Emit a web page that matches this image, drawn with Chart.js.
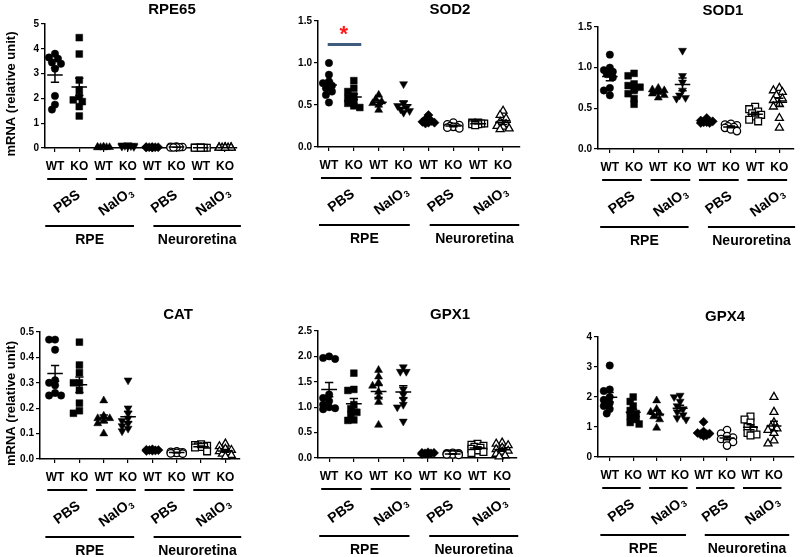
<!DOCTYPE html>
<html>
<head>
<meta charset="utf-8">
<script src="https://cdn.jsdelivr.net/npm/chart.js@4.4.0/dist/chart.umd.min.js"></script>
<style>
  html, body { margin: 0; padding: 0; background: #fff; }
  #wrap { position: relative; width: 800px; height: 557px; }
  #wrap canvas { position: absolute; left: 0; top: 0; }
</style>
</head>
<body>
<div id="wrap">
  <canvas id="c1" width="800" height="557"></canvas>
  <canvas id="c2" width="800" height="557"></canvas>
  <canvas id="c3" width="800" height="557"></canvas>
  <canvas id="c4" width="800" height="557"></canvas>
  <canvas id="c5" width="800" height="557"></canvas>
  <canvas id="c6" width="800" height="557"></canvas>
</div>
<script>
// categories
var groupLabels = ["WT", "KO", "WT", "KO", "WT", "KO", "WT", "KO"];
var treatLabels = ["PBS", "NaIO3", "PBS", "NaIO3"];
var tissueLabels = ["RPE", "Neuroretina"];

// values per group: RPE PBS WT/KO, RPE NaIO3 WT/KO, Neuro PBS WT/KO, Neuro NaIO3 WT/KO
var rpe65Values = [
  [3.8, 3.65, 3.6, 3.45, 3.4, 3.2, 2.1, 1.75, 1.55],
  [4.45, 3.79, 2.74, 2.34, 2.07, 1.94, 1.87, 1.67, 1.29],
  [0.02, 0.03, 0.03, 0.04, 0.02, 0.05, 0.03],
  [0.05, 0.08, 0.1, 0.12, 0.07, 0.09, 0.06, 0.11],
  [0.02, 0.03, 0.04, 0.03, 0.02, 0.03, 0.04],
  [0.02, 0.03, 0.05, 0.04, 0.03, 0.02, 0.04, 0.06],
  [0.01, 0.01, 0.02, 0.01, 0.01, 0.02, 0.01, 0.01],
  [0.01, 0.02, 0.01, 0.01, 0.02, 0.01, 0.01, 0.02, 0.01]
];
var sod2Values = [
  [1.0, 0.86, 0.78, 0.76, 0.73, 0.70, 0.66, 0.62, 0.53],
  [0.79, 0.70, 0.66, 0.61, 0.58, 0.55, 0.52, 0.49, 0.47],
  [0.62, 0.57, 0.54, 0.52, 0.50, 0.44],
  [0.75, 0.52, 0.49, 0.47, 0.45, 0.43, 0.41],
  [0.38, 0.33, 0.31, 0.30, 0.29, 0.29, 0.28],
  [0.29, 0.27, 0.26, 0.25, 0.24, 0.24, 0.23, 0.22],
  [0.29, 0.29, 0.28, 0.28, 0.28, 0.27, 0.27, 0.26],
  [0.43, 0.38, 0.34, 0.30, 0.27, 0.25, 0.24, 0.22, 0.21]
];
var sod1Values = [
  [1.16, 1.0, 0.97, 0.95, 0.92, 0.88, 0.75, 0.72, 0.66],
  [0.93, 0.90, 0.80, 0.78, 0.76, 0.72, 0.68, 0.62, 0.55],
  [0.75, 0.73, 0.72, 0.70, 0.68, 0.66, 0.63],
  [1.21, 0.90, 0.82, 0.72, 0.66, 0.63, 0.62],
  [0.38, 0.35, 0.34, 0.33, 0.33, 0.32, 0.32],
  [0.31, 0.30, 0.29, 0.28, 0.27, 0.26, 0.24, 0.22],
  [0.52, 0.49, 0.46, 0.44, 0.42, 0.40, 0.36, 0.34],
  [0.75, 0.72, 0.70, 0.66, 0.62, 0.60, 0.55, 0.52, 0.38, 0.26]
];
var catValues = [
  [0.47, 0.47, 0.43, 0.31, 0.30, 0.29, 0.26, 0.25, 0.25],
  [0.46, 0.37, 0.34, 0.30, 0.30, 0.27, 0.22, 0.19, 0.18],
  [0.23, 0.17, 0.16, 0.16, 0.15, 0.14, 0.10],
  [0.31, 0.20, 0.18, 0.16, 0.15, 0.14, 0.13, 0.12, 0.11],
  [0.038, 0.036, 0.035, 0.035, 0.034, 0.033, 0.032],
  [0.03, 0.028, 0.026, 0.025, 0.025, 0.024, 0.022, 0.021],
  [0.058, 0.055, 0.052, 0.05, 0.049, 0.047, 0.045, 0.03],
  [0.06, 0.05, 0.04, 0.035, 0.03, 0.025, 0.02, 0.015, 0.01]
];
var gpx1Values = [
  [2.0, 1.97, 1.95, 1.25, 1.18, 1.12, 1.05, 1.0, 0.98, 0.96],
  [1.67, 1.35, 1.33, 1.05, 0.97, 0.90, 0.85, 0.75, 0.74],
  [1.73, 1.60, 1.48, 1.42, 1.30, 1.20, 1.10, 0.65],
  [1.79, 1.70, 1.70, 1.35, 1.25, 1.15, 1.05, 1.0, 0.72],
  [0.11, 0.10, 0.10, 0.09, 0.09, 0.08, 0.08],
  [0.10, 0.09, 0.09, 0.08, 0.08, 0.07, 0.07, 0.06],
  [0.28, 0.26, 0.24, 0.22, 0.20, 0.18, 0.15, 0.12, 0.10],
  [0.30, 0.28, 0.25, 0.20, 0.17, 0.14, 0.12, 0.08, 0.05, 0.03]
];
var gpx4Values = [
  [3.05, 2.25, 2.2, 2.0, 1.9, 1.8, 1.7, 1.6, 1.45],
  [2.0, 1.85, 1.7, 1.55, 1.45, 1.35, 1.25, 1.15, 1.1],
  [1.88, 1.6, 1.5, 1.45, 1.35, 1.25, 0.97],
  [2.05, 2.0, 1.85, 1.7, 1.6, 1.5, 1.4, 1.3, 1.25],
  [1.17, 0.85, 0.8, 0.78, 0.75, 0.72, 0.7],
  [0.9, 0.78, 0.7, 0.65, 0.6, 0.55, 0.5, 0.38],
  [1.35, 1.25, 1.15, 1.0, 0.9, 0.8, 0.75, 0.72],
  [2.0, 1.5, 1.15, 1.0, 0.95, 0.9, 0.8, 0.55, 0.45]
];

// marker look for each group
var markerStyles = ["circle", "rect", "triangle", "triangle", "rectRot", "circle", "rect", "triangle"];
var markerRotation = [0, 0, 0, 180, 0, 0, 0, 0];
var markerFilled = [true, true, true, true, true, false, false, false];
var markerRadius = { circle: 3.7, rect: 4.8, triangle: 4.6, rectRot: 4.6 };

var FONT = "'Liberation Sans', Arial, sans-serif";

var panels = [
  { id: "c1", title: "RPE65", values: rpe65Values, max: 5, step: 1, dec: 0, box: [45, 24, 237, 148], xr: [-0.41, 7.49], tx: 172, ty: 10, yTitle: true },
  { id: "c2", title: "SOD2", values: sod2Values, max: 1.5, step: 0.5, dec: 1, box: [318, 21, 520, 147], xr: [-0.44, 7.68], tx: 450, ty: 10,
    sig: { from: -0.05, to: 1.3, y: 1.22, star: 0.6, starY: 1.4 } },
  { id: "c3", title: "SOD1", values: sod1Values, max: 1.5, step: 0.5, dec: 1, box: [598, 27, 795, 149], xr: [-0.49, 7.6], tx: 723, ty: 11 },
  { id: "c4", title: "CAT", values: catValues, max: 0.5, step: 0.1, dec: 1, box: [40, 332, 240, 459], xr: [-0.62, 7.6], tx: 178, ty: 315, yTitle: true },
  { id: "c5", title: "GPX1", values: gpx1Values, max: 2.5, step: 0.5, dec: 1, box: [318, 331, 517, 458], xr: [-0.45, 7.6], tx: 450, ty: 315 },
  { id: "c6", title: "GPX4", values: gpx4Values, max: 4, step: 1, dec: 0, box: [598, 337, 795, 457], xr: [-0.5, 7.85], tx: 725, ty: 317 }
];

// simple beeswarm so dots with close values spread sideways
function swarm(vals, center, pxPerUnit, pxPerCat) {
  var order = vals.map(function (v, i) { return i; }).sort(function (a, b) { return vals[b] - vals[a]; });
  var steps = [0, -1, 1, -2, 2];
  var gap = 3;
  var placed = [];
  order.forEach(function (i) {
    var yp = vals[i] * pxPerUnit;
    var best = 0, bestD = -1;
    for (var k = 0; k < steps.length; k++) {
      var xp = steps[k] * gap;
      var dmin = Infinity;
      placed.forEach(function (p) {
        var d = Math.hypot(p.xp - xp, p.yp - yp);
        if (d < dmin) dmin = d;
      });
      if (dmin >= 5) { best = steps[k]; break; }
      if (dmin > bestD) { bestD = dmin; best = steps[k]; }
    }
    placed.push({ xp: best * gap, yp: yp, i: i });
  });
  return placed.map(function (p) { return { x: center + p.xp / pxPerCat, y: vals[p.i] }; });
}

function stats(v) {
  var n = v.length;
  var m = v.reduce(function (a, b) { return a + b; }, 0) / n;
  var sd = Math.sqrt(v.reduce(function (a, b) { return a + (b - m) * (b - m); }, 0) / (n - 1));
  return { mean: m, sem: sd / Math.sqrt(n) };
}

function drawTreat(ctx, text, cx, cy) {
  ctx.save();
  ctx.translate(cx, cy);
  ctx.rotate(-36 * Math.PI / 180);
  ctx.textBaseline = "middle";
  ctx.textAlign = "left";
  var main = text, sub = "";
  if (text === "NaIO3") { main = "NaIO"; sub = "3"; }
  ctx.font = "bold 14px " + FONT;
  var w1 = ctx.measureText(main).width;
  ctx.font = "bold 9px " + FONT;
  var w2 = sub ? ctx.measureText(sub).width : 0;
  var x0 = -(w1 + w2) / 2;
  ctx.font = "bold 14px " + FONT;
  ctx.fillText(main, x0, 0);
  if (sub) {
    ctx.font = "bold 9px " + FONT;
    ctx.fillText(sub, x0 + w1 + 0.5, 4);
  }
  ctx.restore();
}

var decor = {
  id: "panelDecor",
  afterDatasetsDraw: function (chart, args, o) {
    var ctx = chart.ctx, xs = chart.scales.x, ys = chart.scales.y;
    ctx.save();
    ctx.strokeStyle = "#000";
    ctx.lineWidth = 1.5;
    o.values.forEach(function (v, i) {
      var s = stats(v);
      var xc = xs.getPixelForValue(i);
      var hw = xs.getPixelForValue(i + 0.32) - xc;
      var cw = xs.getPixelForValue(i + 0.17) - xc;
      var ym = ys.getPixelForValue(s.mean);
      var yt = ys.getPixelForValue(s.mean + s.sem);
      var yb = ys.getPixelForValue(Math.max(0, s.mean - s.sem));
      ctx.beginPath();
      ctx.moveTo(xc - hw, ym); ctx.lineTo(xc + hw, ym);
      ctx.moveTo(xc - cw, yt); ctx.lineTo(xc + cw, yt);
      ctx.moveTo(xc - cw, yb); ctx.lineTo(xc + cw, yb);
      ctx.moveTo(xc, yt); ctx.lineTo(xc, yb);
      ctx.stroke();
    });
    ctx.restore();
  },
  afterDraw: function (chart, args, o) {
    var ctx = chart.ctx, xs = chart.scales.x, ys = chart.scales.y, ca = chart.chartArea;
    ctx.save();
    ctx.fillStyle = "#000";
    ctx.strokeStyle = "#000";

    // title
    ctx.font = "bold 15px " + FONT;
    ctx.textAlign = "center";
    ctx.textBaseline = "middle";
    ctx.fillText(o.title, o.tx, o.ty);

    // y axis title
    if (o.yTitle) {
      ctx.save();
      ctx.translate(11, (ca.top + ca.bottom) / 2 + 8);
      ctx.rotate(-Math.PI / 2);
      ctx.font = "bold 13px " + FONT;
      ctx.fillText("mRNA (relative unit)", 0, 0);
      ctx.restore();
    }

    // treatment underlines and labels
    ctx.lineWidth = 2;
    for (var k = 0; k < 4; k++) {
      var y1 = ca.bottom + 31;
      ctx.beginPath();
      ctx.moveTo(xs.getPixelForValue(2 * k - 0.32), y1);
      ctx.lineTo(xs.getPixelForValue(2 * k + 1.32), y1);
      ctx.stroke();
      drawTreat(ctx, treatLabels[k], xs.getPixelForValue(2 * k + 0.5), ca.bottom + 54);
    }

    // tissue underlines and labels
    var spans = [[-0.4, 3.25], [4.05, 7.65]];
    spans.forEach(function (sp, j) {
      var a = xs.getPixelForValue(sp[0]), b = xs.getPixelForValue(sp[1]);
      ctx.beginPath();
      ctx.moveTo(a, ca.bottom + 78);
      ctx.lineTo(b, ca.bottom + 78);
      ctx.stroke();
      ctx.font = "bold 14px " + FONT;
      ctx.textAlign = "center";
      ctx.textBaseline = "middle";
      ctx.fillText(tissueLabels[j], (a + b) / 2, ca.bottom + 92);
    });

    // significance bar
    if (o.sig) {
      ctx.strokeStyle = "#3f5b7d";
      ctx.lineWidth = 3;
      var ysig = ys.getPixelForValue(o.sig.y);
      ctx.beginPath();
      ctx.moveTo(xs.getPixelForValue(o.sig.from), ysig);
      ctx.lineTo(xs.getPixelForValue(o.sig.to), ysig);
      ctx.stroke();
      ctx.fillStyle = "#ff1a1a";
      ctx.font = "bold 22px " + FONT;
      ctx.textAlign = "center";
      ctx.textBaseline = "alphabetic";
      ctx.fillText("*", xs.getPixelForValue(o.sig.star), ys.getPixelForValue(o.sig.starY) + 12);
    }
    ctx.restore();
  }
};

panels.forEach(function (p) {
  var L = p.box[0], T = p.box[1], R = p.box[2], B = p.box[3];
  var pxPerUnit = (B - T) / p.max;
  var pxPerCat = (R - L) / (p.xr[1] - p.xr[0]);
  var datasets = p.values.map(function (v, i) {
    var st = markerStyles[i];
    return {
      data: swarm(v, i, pxPerUnit, pxPerCat),
      pointStyle: st,
      pointRotation: markerRotation[i],
      pointRadius: markerRadius[st],
      backgroundColor: markerFilled[i] ? "#000" : "#fff",
      borderColor: "#000",
      borderWidth: markerFilled[i] ? 0.5 : 1.3,
      clip: false
    };
  });

  new Chart(p.id, {
    type: "scatter",
    data: { datasets: datasets },
    options: {
      responsive: false,
      animation: false,
      layout: { padding: { left: L - 40, top: T, right: 800 - R, bottom: 557 - B - 30 } },
      plugins: {
        legend: { display: false },
        tooltip: { enabled: false },
        panelDecor: { title: p.title, tx: p.tx, ty: p.ty, yTitle: p.yTitle, values: p.values, sig: p.sig }
      },
      scales: {
        x: {
          type: "linear",
          min: p.xr[0],
          max: p.xr[1],
          afterBuildTicks: function (s) {
            s.ticks = groupLabels.map(function (g, i) { return { value: i }; });
          },
          afterFit: function (s) { s.height = 30; },
          grid: { drawOnChartArea: false, color: "#000", tickLength: 4, lineWidth: 1.2 },
          border: { color: "#000", width: 1.5 },
          ticks: {
            padding: 7,
            color: "#000",
            autoSkip: false,
            maxRotation: 0,
            font: { family: FONT, weight: "bold", size: 12 },
            callback: function (v) { return groupLabels[v]; }
          }
        },
        y: {
          min: 0,
          max: p.max,
          afterFit: function (s) { s.width = 40; },
          grid: { drawOnChartArea: false, color: "#000", tickLength: 4, lineWidth: 1.2 },
          border: { color: "#000", width: 1.5 },
          ticks: {
            stepSize: p.step,
            padding: 2,
            color: "#000",
            font: { family: FONT, weight: "bold", size: 10 },
            callback: function (v) { return v.toFixed(p.dec); }
          }
        }
      }
    },
    plugins: [decor]
  });
});
</script>
</body>
</html>
